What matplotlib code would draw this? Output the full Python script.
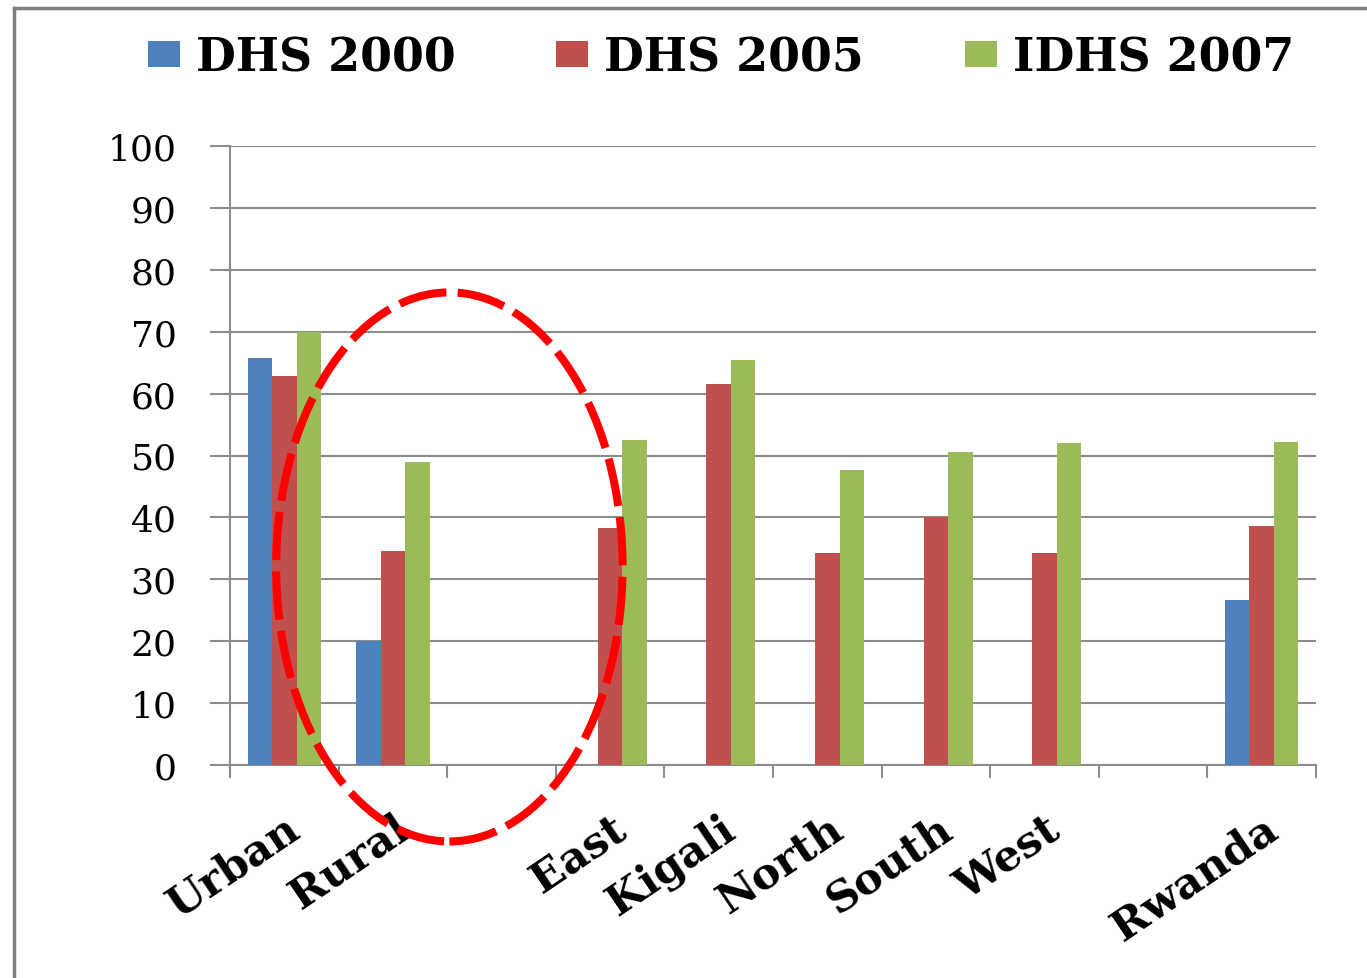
"""
Urban / Rural / province comparison, DHS 2000 - IDHS 2007
"""
import matplotlib
matplotlib.use("Agg")
import matplotlib.pyplot as plt
from matplotlib.patches import Ellipse
from matplotlib.lines import Line2D
import numpy as np

# --- data ---
categories = ["Urban", "Rural", "", "East", "Kigali", "North", "South", "West", "", "Rwanda"]
series_names = ["DHS 2000", "DHS 2005", "IDHS 2007"]
dhs2000 = [65.7, 20.0, np.nan, np.nan, np.nan, np.nan, np.nan, np.nan, np.nan, 26.7]
dhs2005 = [62.9, 34.5, np.nan, 38.3, 61.6, 34.2, 40.0, 34.2, np.nan, 38.6]
idhs2007 = [70.0, 49.0, np.nan, 52.5, 65.4, 47.7, 50.5, 52.0, np.nan, 52.2]
yticks = list(range(0, 101, 10))

colors = ["#4F81BD", "#C0504D", "#9BBB59"]
grid_c = "#8C8C8C"
W, H = 1367, 979

fig = plt.figure(figsize=(W / 100, H / 100), dpi=100, facecolor="white")
ax = fig.add_axes([230 / W, 1 - 766 / H, (1316 - 230) / W, (766 - 147) / H])

x = np.arange(len(categories))
bw = 0.225
handles = []
for k, (vals, c) in enumerate(zip([dhs2000, dhs2005, idhs2007], colors)):
    b = ax.bar(x + (k - 1) * bw, vals, width=bw, color=c, zorder=3, label=series_names[k])
    handles.append(b)

ax.set_xlim(-0.5, len(categories) - 0.5)
ax.set_ylim(0, 100)
ax.set_yticks(yticks)
ax.set_yticklabels([str(v) for v in yticks], family="DejaVu Serif", fontsize=26)
ax.tick_params(axis="y", length=14.5, width=1.5, color=grid_c, pad=24)
ax.yaxis.grid(True, color=grid_c, lw=1.5, zorder=0)

# x ticks at category borders, labels at centres
ax.set_xticks(np.arange(-0.5, len(categories), 1.0))
ax.set_xticklabels([])
ax.tick_params(axis="x", which="major", length=9, width=1.5, color=grid_c)
ax.set_xticks(x, minor=True)
ax.set_xticklabels(categories, minor=True, rotation=34, ha="right",
                   rotation_mode="anchor", family="DejaVu Serif",
                   fontweight="bold", fontsize=31)
ax.tick_params(axis="x", which="minor", length=0, pad=30)

for s in ["top", "right"]:
    ax.spines[s].set_visible(False)
for s in ["left", "bottom"]:
    ax.spines[s].set_color(grid_c)
    ax.spines[s].set_linewidth(1.5)
ax.spines["left"].set_bounds(-2, 100)
ax.spines["left"].set_zorder(1)

# --- ellipse ---
ell = Ellipse((1.52, 32.0), 3.19, 88.7, fill=False, edgecolor="#FF0000",
              lw=5.8, linestyle=(0, (6, 1.4)), clip_on=False, zorder=5)
ax.add_patch(ell)

# --- legend ---
leg = fig.legend(handles=handles, labels=series_names, loc="center", ncol=3,
                 bbox_to_anchor=(721 / W, 1 - 58 / H), frameon=False,
                 handlelength=0.7, handleheight=0.5, handletextpad=0.35,
                 columnspacing=2.2,
                 prop={"family": "DejaVu Serif", "weight": "bold", "size": 33})

# --- outer frame ---
fig.add_artist(Line2D([14 / W, 14 / W], [0, 1 - 9 / H], color="#808080", lw=2.5,
                      transform=fig.transFigure))
fig.add_artist(Line2D([14 / W, 1], [1 - 9 / H, 1 - 9 / H], color="#808080", lw=2.5,
                      transform=fig.transFigure))

fig.savefig("out.png", dpi=100, facecolor="white")
